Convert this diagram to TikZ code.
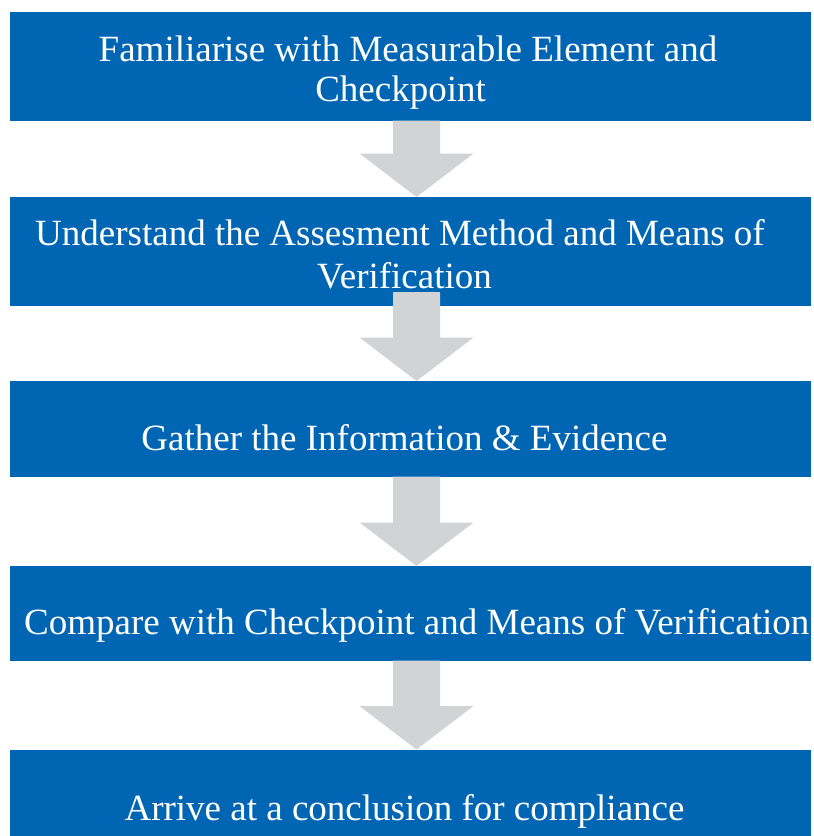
\documentclass[tikz,border=0pt]{standalone}
\usepackage{fontspec}
\setmainfont{Liberation Serif}
\usetikzlibrary{calc}
\definecolor{boxblue}{HTML}{0066B3}
\definecolor{arrowgray}{HTML}{D1D3D4}
\newcommand{\grayarrow}[2]{%
  \fill[blockarrow] ($#1+(-23.5,0)$) -- ($#1+(23.5,0)$) -- ($#2+(23.5,-43.5)$)
    -- ($#2+(57,-43.5)$) -- #2 -- ($#2+(-57,-43.5)$) -- ($#2+(-23.5,-43.5)$) -- cycle;}
\begin{document}
\begin{tikzpicture}[x=1pt,y=-1pt,
  stepbox/.style={fill=boxblue,draw=none,inner sep=0pt,outer sep=0pt,minimum width=801pt},
  steptext/.style={text=white,anchor=base,inner sep=0pt,font=\fontsize{37}{42}\selectfont},
  blockarrow/.style={fill=arrowgray,draw=none}]
\useasboundingbox (0,0) rectangle (814,836);
\fill[white] (0,0) rectangle (814,836);
% boxes
\node[stepbox,minimum height=108.5pt] (b1) at (410.5,66.25) {};
\node[stepbox,minimum height=109pt]   (b2) at (410.5,251.5) {};
\node[stepbox,minimum height=95.7pt]  (b3) at (410.5,428.85) {};
\node[stepbox,minimum height=94.5pt]  (b4) at (410.5,613.25) {};
\node[stepbox,minimum height=86.5pt]  (b5) at (410.5,792.75) {};
\coordinate (ax) at (416.5,0);
% texts
\node[steptext] (t1a) at (408,61) {Familiarise with Measurable Element and};
\node[steptext] (t1b) at (400.6,101.7) {Checkpoint};
\node[steptext] (t2a) at (400,245) {Understand the Assesment Method and Means of};
\node[steptext] (t2b) at (404.5,288) {Verification};
\node[steptext] (t3) at (404.5,450) {Gather the Information \& Evidence};
\node[steptext] (t4) at (416.7,634) {Compare with Checkpoint and Means of Verification};
\node[steptext] (t5) at (404.5,820) {Arrive at a conclusion for compliance};
% arrows
\grayarrow{(b1.south -| ax)}{(b2.north -| ax)}
\grayarrow{($(b2.south -| ax)+(0,-14)$)}{(b3.north -| ax)}
\grayarrow{(b3.south -| ax)}{(b4.north -| ax)}
\grayarrow{(b4.south -| ax)}{(b5.north -| ax)}
\end{tikzpicture}
\end{document}
